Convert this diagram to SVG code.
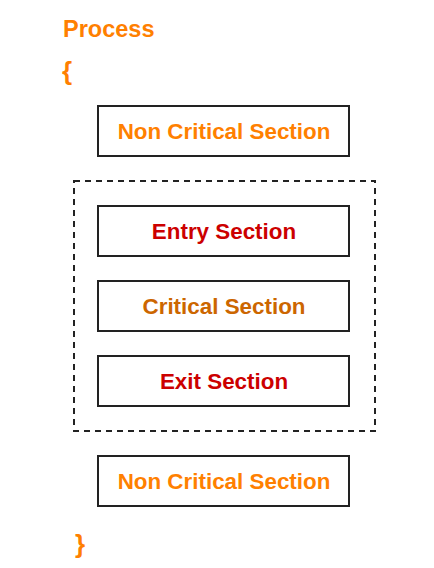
<svg xmlns="http://www.w3.org/2000/svg" width="434" height="568" viewBox="0 0 434 568">
<style>
.t{font-family:"Liberation Sans",Arial,sans-serif;font-weight:bold;font-size:22.4px;text-anchor:middle}
.box{fill:#fff;stroke:#222;stroke-width:2}
.o{fill:#FF8000}.r{fill:#CC0000}.c{fill:#CC6600}
</style>
<rect width="434" height="568" fill="#fff"/>
<text x="63" y="37" class="t o" style="text-anchor:start;font-size:23.5px">Process</text>
<text x="62" y="80" class="t o" style="text-anchor:start;font-size:26px">{</text>
<g id="connectors"></g>
<g id="cs-group"><rect x="74" y="181" width="301" height="250" fill="none" stroke="#222" stroke-width="2" stroke-dasharray="6,5"/></g>
<g id="nc1"><rect class="box" x="98" y="106" width="251" height="50"/><text class="t o" x="224" y="139">Non Critical Section</text></g>
<g id="entry"><rect class="box" x="98" y="206" width="251" height="50"/><text class="t r" x="224" y="239">Entry Section</text></g>
<g id="critical"><rect class="box" x="98" y="281" width="251" height="50"/><text class="t c" x="224" y="314">Critical Section</text></g>
<g id="exit"><rect class="box" x="98" y="356" width="251" height="50"/><text class="t r" x="224" y="389">Exit Section</text></g>
<g id="nc2"><rect class="box" x="98" y="456" width="251" height="50"/><text class="t o" x="224" y="489">Non Critical Section</text></g>
<text x="75" y="553" class="t o" style="text-anchor:start;font-size:26px">}</text>
</svg>
